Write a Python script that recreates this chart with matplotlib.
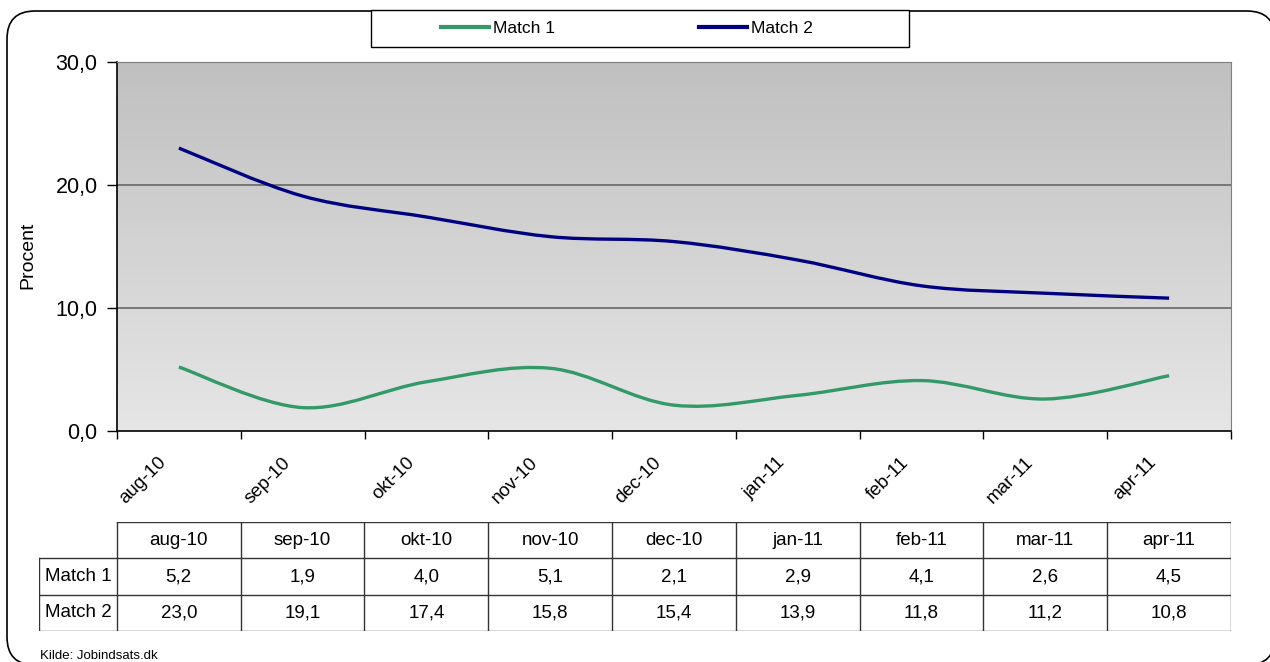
import numpy as np
import matplotlib
matplotlib.use('Agg')
import matplotlib.pyplot as plt
from matplotlib.path import Path
from matplotlib.patches import PathPatch, Rectangle, FancyBboxPatch
from matplotlib.lines import Line2D
from matplotlib.colors import LinearSegmentedColormap
from matplotlib.transforms import IdentityTransform, ScaledTranslation

plt.rcParams['font.family'] = ['Liberation Sans', 'DejaVu Sans']

months = ['aug-10', 'sep-10', 'okt-10', 'nov-10', 'dec-10',
          'jan-11', 'feb-11', 'mar-11', 'apr-11']
match1 = [5.2, 1.9, 4.0, 5.1, 2.1, 2.9, 4.1, 2.6, 4.5]
match2 = [23.0, 19.1, 17.4, 15.8, 15.4, 13.9, 11.8, 11.2, 10.8]
series_names = ['Match 1', 'Match 2']
colors = ['#339966', '#000080']
yticks = [0, 10, 20, 30]
source = 'Kilde: Jobindsats.dk'

W, H = 1270, 662
fig = plt.figure(figsize=(W / 100, H / 100), dpi=100)


def fx(px):
    return px / W


def fy(py):
    return 1 - py / H


def smooth_path(xs, ys):
    # Excel-style smoothed line: cubic bezier through every point
    pts = np.column_stack([xs, ys]).astype(float)
    n = len(pts)
    verts = [pts[0]]
    codes = [Path.MOVETO]
    for i in range(n - 1):
        p0 = pts[i - 1] if i > 0 else pts[i]
        p1 = pts[i]
        p2 = pts[i + 1]
        p3 = pts[i + 2] if i + 2 < n else pts[i + 1]
        verts += [p1 + (p2 - p0) / 6, p2 - (p3 - p1) / 6, p2]
        codes += [Path.CURVE4] * 3
    return Path(verts, codes)


# outer rounded frame
frame = FancyBboxPatch((7, -3), 1268, 662 - 11 + 3,
                       boxstyle='round,pad=0,rounding_size=28',
                       transform=IdentityTransform(), facecolor='white',
                       edgecolor='black', linewidth=1.2, zorder=-2)
fig.patches.append(frame)

ax = fig.add_axes([fx(117), fy(431), fx(1231 - 117), (431 - 62) / H])
n = len(months)
ax.set_xlim(0, n)
ax.set_ylim(0, 30)

# gradient background
cmap = LinearSegmentedColormap.from_list('bg', ['#e6e6e6', '#c0c0c0'])
grad = np.linspace(0, 1, 256).reshape(-1, 1)
ax.imshow(grad, cmap=cmap, aspect='auto', origin='lower',
          extent=[0, n, 0, 30], zorder=0)

for y in yticks[1:-1]:
    ax.axhline(y, color='#666666', linewidth=1.2, zorder=1)

xc = np.arange(n) + 0.5
for vals, col in zip([match1, match2], colors):
    ax.add_patch(PathPatch(smooth_path(xc, vals), facecolor='none',
                           edgecolor=col, linewidth=2.4, zorder=3,
                           capstyle='butt', joinstyle='round'))

ax.set_yticks(yticks)
ax.set_yticklabels([f'{v:.1f}'.replace('.', ',') for v in yticks])
ax.set_xticks(np.arange(n + 1))
ax.set_xticklabels([])
ax.tick_params(axis='y', length=7, width=1, pad=7, labelsize=15.5)
ax.tick_params(axis='x', length=6, width=1)
for s in ['top', 'right']:
    ax.spines[s].set_color('#808080')
for s in ['left', 'bottom']:
    ax.spines[s].set_color('black')
    ax.spines[s].set_linewidth(1.2)

ax.set_ylabel('Procent', fontsize=14)
ax.yaxis.set_label_coords(-0.072, 0.477)

off = ScaledTranslation(-9 / 100, -23 / 100, fig.dpi_scale_trans)
for i, m in enumerate(months):
    ax.text(i + 0.5, 0, m, transform=ax.get_xaxis_transform() + off,
            rotation=45, ha='right', va='top', fontsize=13.5)

# legend box
fig.patches.append(Rectangle((fx(371), fy(47)), fx(909 - 371), (47 - 10) / H,
                             transform=fig.transFigure, facecolor='white',
                             edgecolor='black', linewidth=1, zorder=-1))
handles = [Line2D([], [], color=c, linewidth=3) for c in colors]
fig.legend(handles, series_names, loc='center left',
           bbox_to_anchor=(fx(441), fy(28.5)), ncol=2, frameon=False,
           fontsize=12.5, handlelength=2.75, handletextpad=0.25,
           columnspacing=8.3, borderpad=0, borderaxespad=0)

# data table under the chart
label_w = (117 - 39) / 124
tax = fig.add_axes([fx(39), fy(631), fx(1231 - 39), (631 - 522) / H])
tax.set_xlim(-label_w, n)
tax.set_ylim(3, 0)
tax.axis('off')
lc = '#333333'
tax.plot([0, n], [0, 0], color=lc, lw=1)
for r in [1, 2, 3]:
    tax.plot([-label_w, n], [r, r], color=lc, lw=1)
for c in range(n + 1):
    tax.plot([c, c], [0, 3], color=lc, lw=1)
tax.plot([-label_w, -label_w], [1, 3], color=lc, lw=1)
for i, m in enumerate(months):
    tax.text(i + 0.5, 0.5, m, ha='center', va='center', fontsize=13.5)
rows = [match1, match2]
for r, (name, vals) in enumerate(zip(series_names, rows)):
    tax.text(-label_w / 2, r + 1.5, name, ha='center', va='center',
             fontsize=13.5)
    for i, v in enumerate(vals):
        tax.text(i + 0.5, r + 1.5, f'{v:.1f}'.replace('.', ','),
                 ha='center', va='center', fontsize=13.5)

fig.text(fx(40), fy(650), source, ha='left', va='top', fontsize=9.5,
         bbox=dict(facecolor='white', edgecolor='none', pad=1))

fig.savefig('out.png', dpi=100)
